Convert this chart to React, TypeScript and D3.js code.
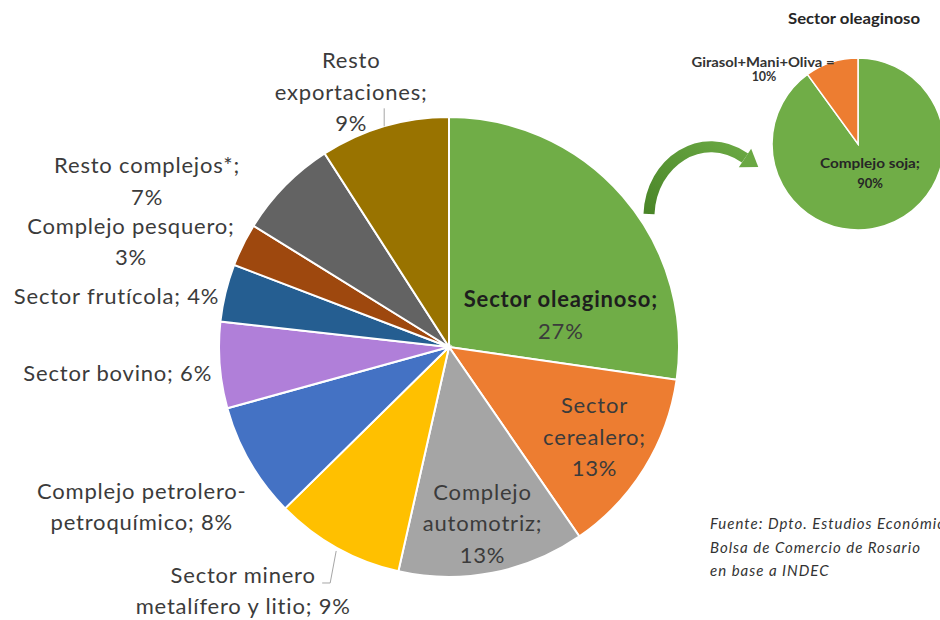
import React from "react";
import * as d3 from "d3";

// ---------- data ----------
const categories = [
  "Sector oleaginoso",
  "Sector cerealero",
  "Complejo automotriz",
  "Sector minero metalífero y litio",
  "Complejo petrolero-petroquímico",
  "Sector bovino",
  "Sector frutícola",
  "Complejo pesquero",
  "Resto complejos*",
  "Resto exportaciones",
];
const shares = [27, 13, 13, 9, 8, 6, 4, 3, 7, 9];
const labelLines = [
  ["Sector oleaginoso;"],
  ["Sector", "cerealero;"],
  ["Complejo", "automotriz;"],
  ["Sector minero", "metalífero y litio;"],
  ["Complejo petrolero-", "petroquímico;"],
  ["Sector bovino;"],
  ["Sector frutícola;"],
  ["Complejo pesquero;"],
  ["Resto complejos*;"],
  ["Resto", "exportaciones;"],
];
const valueSameLine = [false, false, false, true, true, true, true, false, false, false];
const sliceColors = [
  "#70AD47", "#ED7D31", "#A5A5A5", "#FFC000", "#4472C4",
  "#B07FD9", "#255E91", "#9E480E", "#636363", "#997300",
];

const subTitle = "Sector oleaginoso";
const subCategories = ["Complejo soja", "Girasol+Mani+Oliva"];
const subShares = [90, 10];
const subColors = ["#70AD47", "#ED7D31"];

const sourceLines = [
  "Fuente: Dpto.  Estudios Económicos,",
  "Bolsa de Comercio de Rosario",
  "en base a INDEC",
];

// ---------- layout ----------
const W = 940, H = 620;
const cx = 449, cy = 347, R = 230;
const FONT = "Lato, 'Open Sans', sans-serif";
const FS = 22;
const LH = 31.5;
// label block centre offsets relative to the outer arc point at mid-angle
const labelNudge: [number, number][] = [
  [-62, 119], [-50, -31], [-10, -49], [-94, 43], [-108, 45],
  [-102, 8], [-109, 4], [-112, -3], [-138, -4], [-33, -34],
];

const subCx = 858, subCy = 144, subR = 86;

export default function App() {
  const pie = d3.pie<number>().sort(null).value((d) => d).startAngle(0).endAngle(2 * Math.PI);
  const arcs = pie(shares);
  const arc = d3.arc<d3.PieArcDatum<number>>().innerRadius(0).outerRadius(R);
  const fmt = (v: number) => `${d3.format("d")(v)}%`;

  const outerPoint = (d: d3.PieArcDatum<number>, r: number) => {
    const a = (d.startAngle + d.endAngle) / 2;
    return [Math.sin(a) * r, -Math.cos(a) * r];
  };

  const subArcs = pie(subShares);
  const subArc = d3.arc<d3.PieArcDatum<number>>().innerRadius(0).outerRadius(subR);

  // arrow
  const arrowPath = d3.path();
  arrowPath.moveTo(649, 214);
  arrowPath.bezierCurveTo(651, 162, 702, 128, 745, 158);
  const dir = [0.83, 0.56];
  const perp = [-dir[1], dir[0]];
  const bx = 745, by = 158;
  const head = [
    [bx + perp[0] * 11, by + perp[1] * 11],
    [bx - perp[0] * 11, by - perp[1] * 11],
    [bx + dir[0] * 16, by + dir[1] * 16],
  ];

  return (
    <svg
      width={W}
      height={H}
      style={{ position: "absolute", left: 0, top: 0, background: "#fff" }}
      fontFamily={FONT}
    >
      <defs>
        <linearGradient id="arrowGrad" x1="0" y1="1" x2="1" y2="0">
          <stop offset="0" stopColor="#4A8528" />
          <stop offset="1" stopColor="#6AA843" />
        </linearGradient>
      </defs>
      <rect width={W} height={H} fill="#fff" />

      {/* main pie */}
      <g transform={`translate(${cx},${cy})`}>
        {arcs.map((d, i) => (
          <path key={categories[i]} d={arc(d) || ""} fill={sliceColors[i]} stroke="#fff" strokeWidth={2} />
        ))}
      </g>

      {/* leader lines */}
      {(() => {
        const p9 = outerPoint(arcs[9], R);
        const p3 = outerPoint(arcs[3], R);
        return (
          <g stroke="#A6A6A6" strokeWidth={1} fill="none">
            <line x1={cx + p9[0]} y1={cy + p9[1]} x2={cx + p9[0]} y2={cy + p9[1] - 18} />
            <polyline
              points={`${cx + p3[0] - 1},${cy + p3[1] + 3} ${cx + p3[0] - 7},${cy + p3[1] + 35} ${cx + p3[0] - 15},${cy + p3[1] + 35}`}
            />
          </g>
        );
      })()}

      {/* labels */}
      {arcs.map((d, i) => {
        const p = outerPoint(d, R);
        const x = cx + p[0] + labelNudge[i][0];
        const yc = cy + p[1] + labelNudge[i][1];
        const lines = [...labelLines[i]];
        if (valueSameLine[i]) lines[lines.length - 1] += " " + fmt(shares[i]);
        else lines.push(fmt(shares[i]));
        const y0 = yc - ((lines.length - 1) * LH) / 2;
        return (
          <text key={categories[i]} textAnchor="middle" fontSize={FS} fill="#3B3B3B" letterSpacing={0.8}>
            {lines.map((l, j) => (
              <tspan
                key={j}
                x={x}
                y={y0 + j * LH + FS * 0.34}
                fontWeight={i === 0 && j === 0 ? 700 : 400}
                fill={i === 0 && j === 0 ? "#1E1E1E" : "#3B3B3B"}
              >
                {l}
              </tspan>
            ))}
          </text>
        );
      })}

      {/* arrow */}
      <path d={arrowPath.toString()} fill="none" stroke="url(#arrowGrad)" strokeWidth={11} />
      <polygon points={head.map((p) => p.join(",")).join(" ")} fill="#6AA843" />

      {/* sub pie */}
      <g transform={`translate(${subCx},${subCy})`}>
        {subArcs.map((d, i) => (
          <path key={subCategories[i]} d={subArc(d) || ""} fill={subColors[i]} stroke="#fff" strokeWidth={1.5} />
        ))}
      </g>
      <text x={854} y={24} textAnchor="middle" fontSize={16} fontWeight={700} fill="#262626" textLength={132} lengthAdjust="spacingAndGlyphs">
        {subTitle}
      </text>
      <text x={763} y={67} textAnchor="middle" fontSize={12.5} fontWeight={700} fill="#333" textLength={143} lengthAdjust="spacingAndGlyphs">
        {subCategories[1]} =
      </text>
      <text x={764} y={81} textAnchor="middle" fontSize={12.5} fontWeight={700} fill="#333">
        {fmt(subShares[1])}
      </text>
      <text x={870} y={168} textAnchor="middle" fontSize={13} fontWeight={700} fill="#262626" textLength={100} lengthAdjust="spacingAndGlyphs">
        {subCategories[0]};
      </text>
      <text x={870} y={188} textAnchor="middle" fontSize={13} fontWeight={700} fill="#262626">
        {fmt(subShares[0])}
      </text>

      {/* source */}
      <text fontSize={15} fontStyle="italic" fill="#333" letterSpacing={1}>
        {sourceLines.map((l, j) => (
          <tspan key={j} x={710} y={529 + j * 23.5}>{l}</tspan>
        ))}
      </text>
    </svg>
  );
}
